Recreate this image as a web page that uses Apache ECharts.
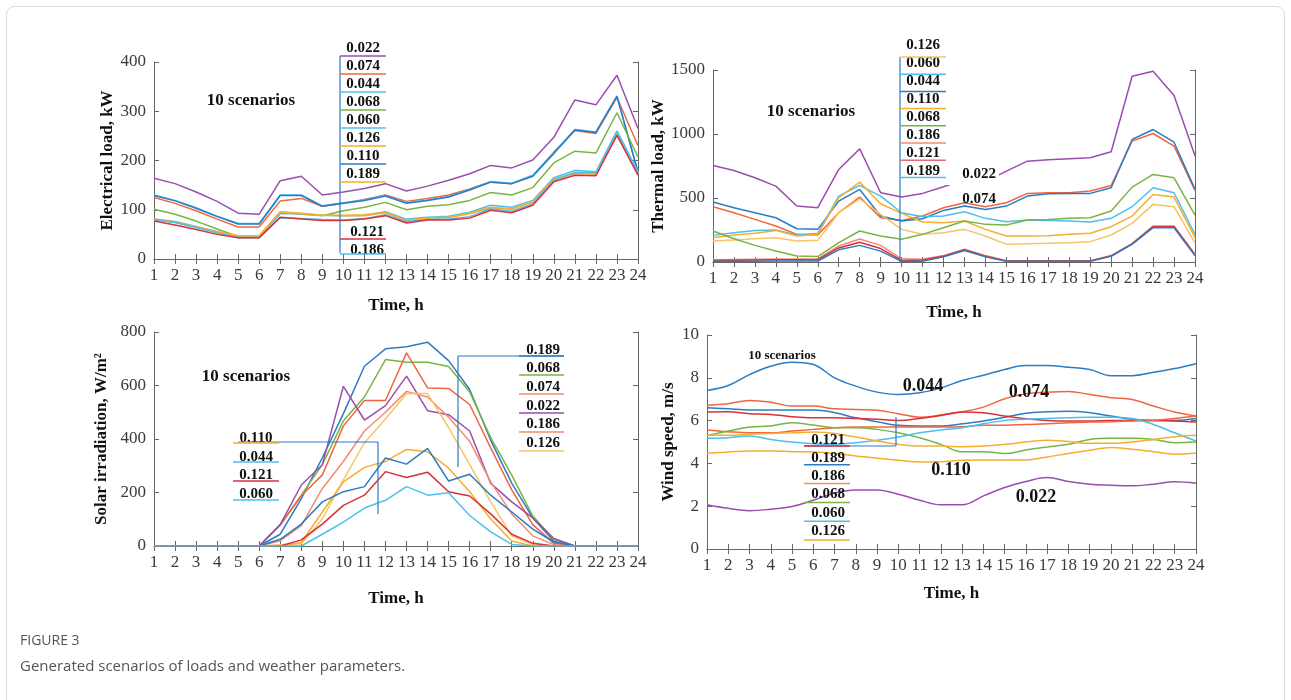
<!DOCTYPE html>
<html>
<head>
<meta charset="utf-8">
<script src="https://cdn.jsdelivr.net/npm/echarts@6/dist/echarts.min.js"></script>
<style>
html,body{margin:0;padding:0;background:#fff;}
#c{width:1291px;height:700px;}
</style>
</head>
<body>
<div id="c"></div>
<script>
// ---------------- DATA ----------------
const hours = ['1','2','3','4','5','6','7','8','9','10','11','12','13','14','15','16','17','18','19','20','21','22','23','24'];

// Electrical load, kW (scenario probability in name)
const elec_022 = [164,153,136,117,93,91,159,168,130,136,143,153,138,148,160,173,190,185,201,247,323,313,373,265];
const elec_074 = [125,113,98,81,65,65,118,123,107,113,121,130,117,123,130,142,157,153,169,217,261,255,328,230];
const elec_044 = [130,119,104,87,72,72,130,130,108,114,120,129,114,120,127,141,157,154,170,216,263,258,331,177];
const elec_110 = [129,118,103,86,71,71,129,129,107,113,119,128,113,119,126,140,156,153,168,214,262,257,330,176];
const elec_068 = [101,91,77,61,46,46,95,91,88,98,105,115,100,107,110,119,135,130,145,195,219,215,297,207];
const elec_060 = [81,76,66,56,45,45,92,92,89,88,89,96,81,85,87,95,109,105,119,165,180,177,260,177];
const elec_126 = [80,74,65,55,47,47,96,93,89,88,88,94,78,82,84,92,104,101,115,161,173,172,255,172];
const elec_189 = [81,75,65,55,47,47,95,92,89,89,90,95,79,83,85,93,105,102,116,162,175,174,257,174];
const elec_186 = [80,74,64,53,43,43,84,82,80,79,82,90,76,80,81,86,102,97,112,160,176,175,258,175];
const elec_121 = [77,69,60,50,43,43,85,81,78,78,81,88,73,79,79,83,99,94,109,157,170,169,251,170];

// Thermal load, kW
const heat_022 = [754,715,658,593,437,424,723,884,541,507,536,588,645,627,710,788,798,806,814,861,1451,1490,1300,830];
const heat_074 = [432,385,333,281,216,211,385,507,346,325,359,424,463,432,463,536,541,541,554,598,944,1004,905,560];
const heat_044 = [468,424,385,346,260,255,476,567,359,320,338,403,437,411,437,515,533,536,536,580,957,1035,936,567];
const heat_060 = [208,229,247,250,211,224,515,598,515,385,354,359,393,341,315,328,325,320,312,341,432,580,541,216];
const heat_110 = [190,211,224,247,203,216,502,624,455,380,312,307,320,255,203,203,205,216,224,276,359,528,507,190];
const heat_126 = [164,172,182,190,164,169,385,494,372,255,216,229,255,203,138,143,146,151,159,211,302,450,432,150];
const heat_068 = [242,182,130,86,47,42,151,242,203,177,216,268,320,294,289,328,333,341,346,398,585,684,658,367];
const heat_186 = [18,20,22,24,24,24,125,180,130,25,22,50,100,50,10,10,10,10,10,50,145,282,282,60];
const heat_121 = [12,14,16,18,18,18,110,155,105,12,15,45,95,45,8,8,8,8,8,48,140,275,275,55];
const heat_189 = [5,5,5,8,8,8,95,130,85,5,5,40,90,40,5,5,5,5,5,45,140,268,268,50];

// Solar irradiation, W/m2
const sun_189 = [0,0,0,0,0,0,44,177,330,495,672,737,745,762,693,585,395,235,105,18,0,0,0,0];
const sun_068 = [0,0,0,0,0,0,80,190,304,468,557,697,687,687,671,576,405,265,112,25,0,0,0,0];
const sun_074 = [0,0,0,0,0,0,78,188,266,449,544,544,722,591,589,529,367,210,80,10,0,0,0,0];
const sun_022 = [0,0,0,0,0,0,80,228,304,597,471,525,635,506,491,430,234,165,105,28,0,0,0,0];
const sun_186 = [0,0,0,0,0,0,20,76,215,316,430,500,578,557,481,392,240,120,38,5,0,0,0,0];
const sun_126 = [0,0,0,0,0,0,5,8,101,247,386,475,570,570,443,304,165,38,5,0,0,0,0,0];
const sun_110 = [0,0,0,0,0,0,0,13,127,240,294,316,361,352,291,203,101,19,0,0,0,0,0,0];
const sun_044 = [0,0,0,0,0,0,25,82,165,203,222,329,306,365,243,268,190,127,63,15,0,0,0,0];
const sun_121 = [0,0,0,0,0,0,0,23,82,152,190,278,256,276,203,187,120,44,10,0,0,0,0,0];
const sun_060 = [0,0,0,0,0,0,0,0,44,89,142,171,222,190,199,114,53,6,0,0,0,0,0,0];

// Wind speed, m/s
const wind_044 = [7.41,7.64,8.15,8.54,8.73,8.62,8.0,7.61,7.33,7.22,7.30,7.53,7.87,8.12,8.39,8.57,8.57,8.49,8.39,8.10,8.10,8.26,8.43,8.66];
const wind_074 = [6.72,6.79,6.94,6.86,6.68,6.68,6.55,6.52,6.48,6.32,6.16,6.26,6.41,6.63,7.02,7.25,7.33,7.36,7.22,7.07,6.99,6.68,6.40,6.21];
const wind_189 = [6.60,6.55,6.50,6.50,6.49,6.49,6.37,6.13,5.95,5.78,5.75,5.75,5.85,5.98,6.16,6.34,6.41,6.44,6.37,6.21,6.06,6.01,6.01,6.10];
const wind_121 = [6.40,6.41,6.32,6.29,6.18,6.13,6.13,6.10,6.06,6.01,6.10,6.24,6.40,6.37,6.21,6.09,6.01,5.98,5.98,6.01,6.01,6.01,5.98,5.93];
const wind_186 = [5.56,5.48,5.43,5.43,5.51,5.59,5.67,5.70,5.70,5.70,5.70,5.70,5.71,5.78,5.78,5.82,5.85,5.90,5.93,5.95,5.98,6.01,6.10,6.21];
const wind_068 = [5.31,5.51,5.70,5.75,5.90,5.79,5.67,5.67,5.59,5.43,5.20,4.89,4.55,4.55,4.46,4.63,4.77,4.89,5.12,5.17,5.17,5.12,4.97,5.00];
const wind_060 = [5.17,5.20,5.28,5.12,5.00,4.92,4.89,4.97,5.08,5.23,5.43,5.56,5.67,5.85,6.01,6.06,6.10,6.13,6.16,6.16,6.10,5.82,5.43,5.05];
const wind_126 = [5.31,5.31,5.36,5.40,5.43,5.47,5.40,5.23,5.05,4.89,4.81,4.81,4.78,4.81,4.89,5.00,5.08,5.02,4.94,4.94,5.00,5.12,5.25,5.31];
const wind_110 = [4.47,4.53,4.58,4.58,4.55,4.53,4.46,4.35,4.24,4.15,4.07,4.08,4.15,4.16,4.16,4.16,4.30,4.46,4.61,4.74,4.66,4.55,4.43,4.47];
const wind_022 = [2.07,1.90,1.79,1.86,1.99,2.28,2.61,2.76,2.76,2.56,2.28,2.07,2.07,2.48,2.87,3.15,3.34,3.15,3.03,2.98,2.95,3.03,3.14,3.07];

// ---------------- STYLE ----------------
const SERIF = 'Liberation Serif';
const C = {
  purple:'#9B4DAE', blue:'#2B7CC4', cyan:'#4BC0EC', orangered:'#F0663E', salmon:'#F58B6E',
  yellow:'#F6AE2D', lightorange:'#F8C462', green:'#78B544', red:'#D9303E', pink:'#E06A80'
};

const grids = [
  {left:154, top:62, width:484, height:197},
  {left:713, top:70, width:482, height:192},
  {left:154, top:332, width:484, height:214},
  {left:707, top:335, width:489, height:214}
];

const xAxes = [], yAxes = [], series = [];
const axisLineStyle = {show:true, lineStyle:{color:'#666', width:1}};
const tickStyle = {show:true, inside:true, length:5, interval:0, lineStyle:{color:'#666'}};

function addAxes(i, yMin, yMax, yInt, yName, yGap, xGap) {
  xAxes.push({gridIndex:i, type:'category', data:hours, boundaryGap:false, position:'bottom',
    axisLine:axisLineStyle, axisTick:tickStyle,
    axisLabel:{interval:0, color:'#3a3a3a', fontFamily:SERIF, fontSize:17, margin:8},
    name:'Time, h', nameLocation:'middle', nameGap:xGap,
    nameTextStyle:{fontFamily:SERIF, fontWeight:'bold', fontSize:17, color:'#111'},
    splitLine:{show:false}});
  xAxes.push({gridIndex:i, type:'category', data:hours, boundaryGap:false, position:'top',
    axisLine:axisLineStyle, axisTick:tickStyle, axisLabel:{show:false}, splitLine:{show:false}});
  yAxes.push({gridIndex:i, type:'value', min:yMin, max:yMax, interval:yInt, position:'left',
    axisLine:axisLineStyle, axisTick:tickStyle,
    axisLabel:{color:'#3a3a3a', fontFamily:SERIF, fontSize:17, margin:8, formatter:(v) => String(v)},
    name:yName, nameLocation:'middle', nameGap:yGap, nameRotate:90,
    nameTextStyle:{fontFamily:SERIF, fontWeight:'bold', fontSize:17, color:'#111'},
    splitLine:{show:false}});
  yAxes.push({gridIndex:i, type:'value', min:yMin, max:yMax, interval:yInt, position:'right',
    axisLine:axisLineStyle, axisTick:tickStyle, axisLabel:{show:false}, splitLine:{show:false}});
}
addAxes(0, 0, 400, 100, 'Electrical load, kW', 30, 38);
addAxes(1, 0, 1500, 500, 'Thermal load, kW', 40, 42);
addAxes(2, 0, 800, 200, 'Solar irradiation, W/m\u00B2', 44, 44);
addAxes(3, 0, 10, 2, 'Wind speed, m/s', 30, 36);

function addSeries(i, name, data, color, smooth) {
  series.push({type:'line', name:name, xAxisIndex:2*i, yAxisIndex:2*i, data:data,
    symbol:'none', smooth:smooth || false, lineStyle:{color:color, width:1.5},
    itemStyle:{color:color}, animation:false, z:2});
}
// Electrical
addSeries(0,'0.022',elec_022,C.purple);
addSeries(0,'0.074',elec_074,C.orangered);
addSeries(0,'0.044',elec_044,C.cyan);
addSeries(0,'0.110',elec_110,C.blue);
addSeries(0,'0.068',elec_068,C.green);
addSeries(0,'0.060',elec_060,C.cyan);
addSeries(0,'0.126',elec_126,C.yellow);
addSeries(0,'0.189',elec_189,C.yellow);
addSeries(0,'0.186',elec_186,C.cyan);
addSeries(0,'0.121',elec_121,C.red);
// Thermal
addSeries(1,'0.022',heat_022,C.purple);
addSeries(1,'0.074',heat_074,C.orangered);
addSeries(1,'0.044',heat_044,C.blue);
addSeries(1,'0.060',heat_060,C.cyan);
addSeries(1,'0.110',heat_110,C.yellow);
addSeries(1,'0.126',heat_126,C.lightorange);
addSeries(1,'0.068',heat_068,C.green);
addSeries(1,'0.186',heat_186,C.salmon);
addSeries(1,'0.121',heat_121,C.red);
addSeries(1,'0.189',heat_189,C.blue);
// Solar
addSeries(2,'0.189',sun_189,C.blue);
addSeries(2,'0.068',sun_068,C.green);
addSeries(2,'0.074',sun_074,C.orangered);
addSeries(2,'0.022',sun_022,C.purple);
addSeries(2,'0.186',sun_186,C.salmon);
addSeries(2,'0.126',sun_126,C.lightorange);
addSeries(2,'0.110',sun_110,C.yellow);
addSeries(2,'0.044',sun_044,C.blue);
addSeries(2,'0.121',sun_121,C.red);
addSeries(2,'0.060',sun_060,C.cyan);
// Wind
addSeries(3,'0.044',wind_044,C.blue,0.4);
addSeries(3,'0.074',wind_074,C.orangered,0.4);
addSeries(3,'0.189',wind_189,C.blue,0.4);
addSeries(3,'0.121',wind_121,C.red,0.4);
addSeries(3,'0.186',wind_186,C.orangered,0.4);
addSeries(3,'0.068',wind_068,C.green,0.4);
addSeries(3,'0.060',wind_060,C.cyan,0.4);
addSeries(3,'0.126',wind_126,C.yellow,0.4);
addSeries(3,'0.110',wind_110,C.yellow,0.4);
addSeries(3,'0.022',wind_022,C.purple,0.4);

// ---------------- ANNOTATIONS ----------------
const G = [];
function txt(x, y, s, size, opts) {
  G.push(Object.assign({type:'text', x:x, y:y, z:100,
    style:{text:s, font:'bold ' + size + 'px "' + SERIF + '"', fill:'#111', align:'center', verticalAlign:'middle'}}, opts || {}));
}
function ln(x1, y1, x2, y2, color, w) {
  G.push({type:'line', z:101, shape:{x1:x1,y1:y1,x2:x2,y2:y2}, style:{stroke:color, lineWidth:w || 1.5}});
}
function box(x, y, w, h) {
  G.push({type:'rect', z:99, shape:{x:x,y:y,width:w,height:h}, style:{fill:'#fff'}});
}
function tag(cx, ty, s, color, ux1, ux2, uy, size) {
  txt(cx, ty, s, size || 15);
  ln(ux1, uy, ux2, uy, color, 1.5);
}

// figure border + caption
G.push({type:'rect', z:0, shape:{x:6.5, y:6.5, width:1278, height:760, r:8}, style:{fill:null, stroke:'#d9d9d9', lineWidth:1}});
G.push({type:'text', x:20, y:641, z:100, style:{text:'FIGURE 3', font:'14px "Open Sans"', fill:'#555', verticalAlign:'middle'}});
G.push({type:'text', x:20, y:667, z:100, style:{text:'Generated scenarios of loads and weather parameters.', font:'15px "Open Sans"', fill:'#555', verticalAlign:'middle'}});

// Panel 1
txt(251, 101, '10 scenarios', 17);
box(341, 38, 46, 27);
ln(340, 56, 340, 253, C.blue, 1.2);
const p1 = [['0.022',C.purple],['0.074',C.orangered],['0.044',C.cyan],['0.068',C.green],['0.060',C.cyan],['0.126',C.yellow],['0.110',C.blue],['0.189',C.yellow]];
p1.forEach((d, k) => tag(363, 48 + 18*k, d[0], d[1], 340, 386, 56 + 18*k));
tag(367, 232, '0.121', C.red, 340, 386, 239);
tag(367, 250, '0.186', C.cyan, 340, 386, 254);

// Panel 2
txt(811, 112, '10 scenarios', 17);
box(901, 60, 52, 14);
ln(900, 57, 900, 262, C.blue, 1.2);
const p2 = [['0.126',C.lightorange],['0.060',C.cyan],['0.044',C.blue],['0.110',C.yellow],['0.068',C.green],['0.186',C.salmon],['0.121',C.pink],['0.189',C.cyan]];
p2.forEach((d, k) => tag(923, 45 + 18*k, d[0], d[1], 900, 946, 57 + 17.2*k));
box(943, 163, 56, 22);
txt(979, 174, '0.022', 15);
txt(979, 199, '0.074', 15);

// Panel 3
txt(246, 377, '10 scenarios', 17);
ln(238, 442, 378, 442, C.blue, 1.2);
ln(378, 442, 378, 514, C.blue, 1.2);
const p3a = [['0.110',C.yellow],['0.044',C.cyan],['0.121',C.red],['0.060',C.cyan]];
p3a.forEach((d, k) => tag(256, 438 + 18.7*k, d[0], d[1], 233, 279, 443 + 19*k));
ln(458, 356, 564, 356, C.blue, 1.2);
ln(458, 356, 458, 467, C.blue, 1.2);
const p3b = [['0.189',C.blue],['0.068',C.green],['0.074',C.salmon],['0.022',C.purple],['0.186',C.salmon],['0.126',C.lightorange]];
p3b.forEach((d, k) => tag(543, 350 + 18.6*k, d[0], d[1], 519, 564, 356 + 19*k));

// Panel 4
txt(782, 356, '10 scenarios', 13);
txt(923, 386, '0.044', 18);
txt(1029, 392, '0.074', 18);
txt(951, 470, '0.110', 18);
txt(1036, 497, '0.022', 18);
ln(804, 446, 896, 446, C.blue, 1.2);
ln(896, 417, 896, 446, C.blue, 1.2);
const p4 = [['0.121',C.red],['0.189',C.blue],['0.186',C.salmon],['0.068',C.green],['0.060',C.cyan],['0.126',C.yellow]];
p4.forEach((d, k) => tag(828, 440 + 18.2*k, d[0], d[1], 804, 850, 446 + 18.8*k));

const chart = echarts.init(document.getElementById('c'), null, {renderer:'canvas'});
chart.setOption({
  animation:false,
  backgroundColor:'#fff',
  grid:grids,
  xAxis:xAxes,
  yAxis:yAxes,
  series:series,
  graphic:{elements:G}
});
</script>
</body>
</html>
